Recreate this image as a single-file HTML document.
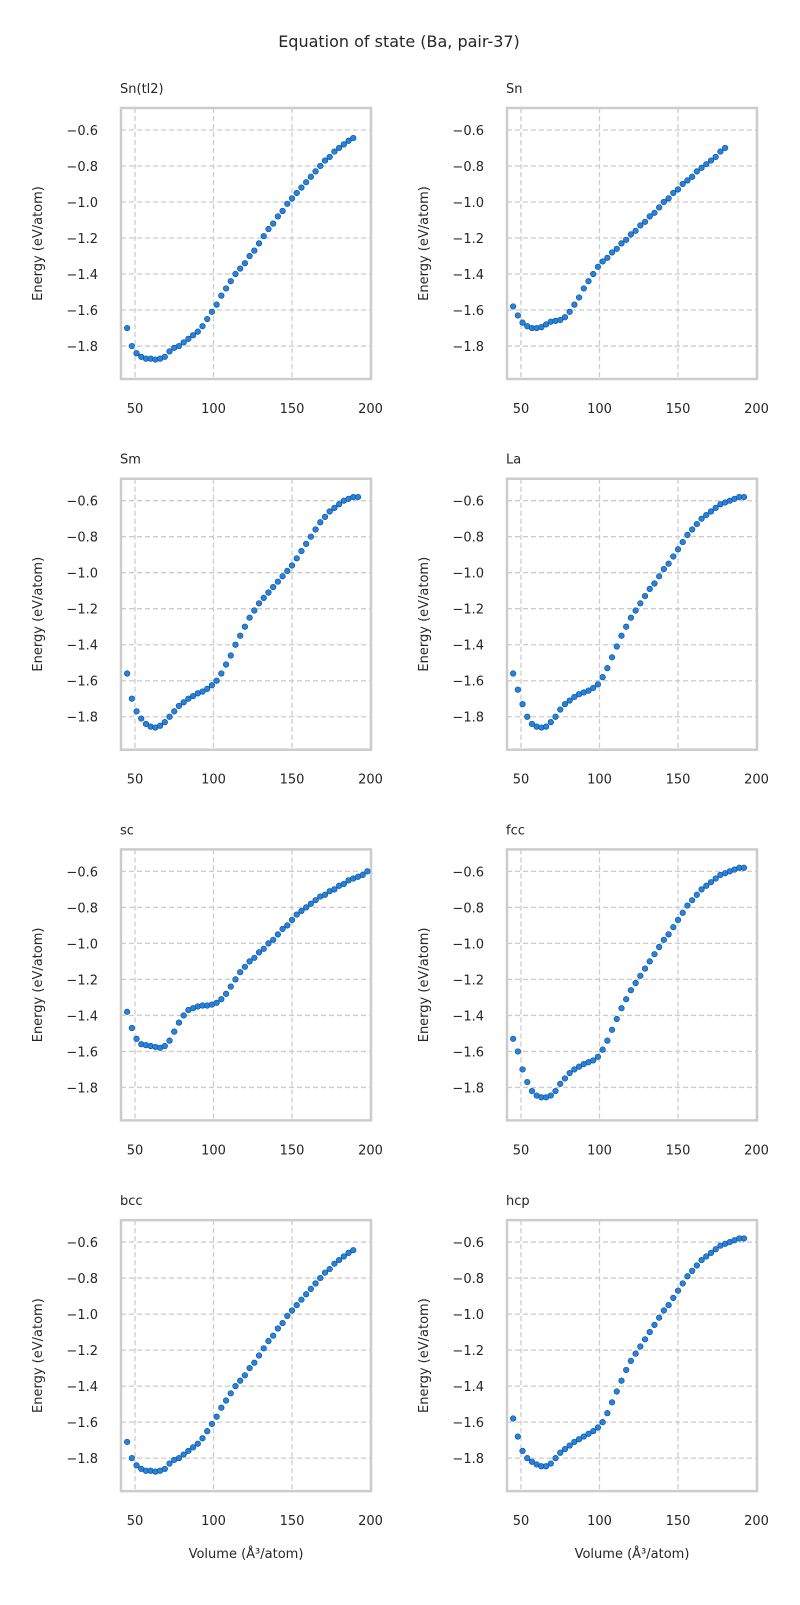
<!DOCTYPE html>
<html><head><meta charset="utf-8">
<style>
body{margin:0;background:#fff;}
svg text{font-family:"DejaVu Sans","Liberation Sans",sans-serif;fill:#262626;}
</style></head>
<body>
<svg id="fig" width="800" height="1600" viewBox="0 0 800 1600" xmlns="http://www.w3.org/2000/svg">
<text x="399" y="47" font-size="16" text-anchor="middle">Equation of state (Ba, pair-37)</text>
</svg>
<script>
const volumes=[45,48,51,54,57,60,63,66,69,72,75,78,81,84,87,90,93,96,99,102,105,108,111,114,117,120,123,126,129,132,135,138,141,144,147,150,153,156,159,162,165,168,171,174,177,180,183,186,189,192,195,198];
const panelNames=["Sn(tl2)","Sn","Sm","La","sc","fcc","bcc","hcp"];
const eSnTl2=[-1.70,-1.80,-1.84,-1.86,-1.87,-1.87,-1.875,-1.87,-1.86,-1.83,-1.81,-1.80,-1.78,-1.76,-1.74,-1.72,-1.69,-1.65,-1.61,-1.57,-1.52,-1.48,-1.44,-1.40,-1.37,-1.34,-1.30,-1.27,-1.23,-1.19,-1.15,-1.12,-1.08,-1.05,-1.01,-0.98,-0.95,-0.92,-0.89,-0.86,-0.83,-0.80,-0.77,-0.75,-0.72,-0.70,-0.68,-0.66,-0.645,null,null,null];
const eSn=[-1.58,-1.63,-1.67,-1.69,-1.70,-1.70,-1.695,-1.68,-1.665,-1.66,-1.655,-1.64,-1.61,-1.57,-1.53,-1.48,-1.44,-1.40,-1.36,-1.33,-1.31,-1.28,-1.26,-1.23,-1.21,-1.18,-1.16,-1.13,-1.11,-1.08,-1.06,-1.03,-1.00,-0.98,-0.95,-0.93,-0.90,-0.88,-0.86,-0.83,-0.81,-0.79,-0.77,-0.75,-0.72,-0.70,null,null,null,null,null,null];
const eSm=[-1.56,-1.70,-1.77,-1.81,-1.84,-1.855,-1.86,-1.85,-1.83,-1.80,-1.77,-1.74,-1.72,-1.70,-1.685,-1.67,-1.66,-1.645,-1.625,-1.60,-1.56,-1.51,-1.46,-1.40,-1.35,-1.30,-1.25,-1.21,-1.17,-1.14,-1.11,-1.08,-1.05,-1.02,-0.99,-0.96,-0.92,-0.88,-0.84,-0.80,-0.76,-0.72,-0.69,-0.66,-0.64,-0.62,-0.60,-0.59,-0.58,-0.58,null,null];
const eLa=[-1.56,-1.65,-1.73,-1.80,-1.84,-1.855,-1.86,-1.855,-1.83,-1.80,-1.76,-1.73,-1.71,-1.69,-1.675,-1.665,-1.655,-1.64,-1.62,-1.58,-1.53,-1.47,-1.41,-1.35,-1.30,-1.25,-1.21,-1.17,-1.13,-1.09,-1.06,-1.02,-0.98,-0.95,-0.91,-0.87,-0.83,-0.79,-0.76,-0.73,-0.70,-0.68,-0.66,-0.64,-0.62,-0.61,-0.60,-0.59,-0.58,-0.58,null,null];
const eSc=[-1.38,-1.47,-1.53,-1.56,-1.565,-1.57,-1.575,-1.58,-1.57,-1.54,-1.49,-1.44,-1.40,-1.37,-1.36,-1.35,-1.345,-1.345,-1.34,-1.33,-1.31,-1.28,-1.24,-1.20,-1.16,-1.13,-1.10,-1.08,-1.05,-1.03,-1.00,-0.98,-0.95,-0.92,-0.90,-0.87,-0.84,-0.82,-0.80,-0.78,-0.76,-0.74,-0.73,-0.71,-0.70,-0.68,-0.67,-0.65,-0.64,-0.63,-0.62,-0.60];
const eFcc=[-1.53,-1.60,-1.70,-1.77,-1.82,-1.845,-1.855,-1.855,-1.845,-1.82,-1.78,-1.75,-1.72,-1.70,-1.685,-1.67,-1.66,-1.65,-1.63,-1.59,-1.54,-1.48,-1.42,-1.36,-1.31,-1.26,-1.22,-1.18,-1.14,-1.10,-1.06,-1.02,-0.98,-0.95,-0.91,-0.87,-0.83,-0.79,-0.76,-0.73,-0.70,-0.68,-0.66,-0.64,-0.62,-0.61,-0.60,-0.59,-0.58,-0.58,null,null];
const eBcc=[-1.71,-1.80,-1.84,-1.86,-1.87,-1.87,-1.875,-1.87,-1.86,-1.83,-1.81,-1.80,-1.78,-1.76,-1.74,-1.72,-1.69,-1.65,-1.61,-1.57,-1.52,-1.48,-1.44,-1.40,-1.37,-1.34,-1.30,-1.27,-1.23,-1.19,-1.15,-1.12,-1.08,-1.05,-1.01,-0.98,-0.95,-0.92,-0.89,-0.86,-0.83,-0.80,-0.77,-0.75,-0.72,-0.70,-0.68,-0.66,-0.645,null,null,null];
const eHcp=[-1.58,-1.68,-1.76,-1.80,-1.82,-1.835,-1.845,-1.845,-1.83,-1.80,-1.77,-1.75,-1.73,-1.71,-1.695,-1.68,-1.665,-1.65,-1.63,-1.60,-1.55,-1.49,-1.43,-1.37,-1.31,-1.26,-1.22,-1.18,-1.14,-1.10,-1.06,-1.02,-0.98,-0.95,-0.91,-0.87,-0.83,-0.79,-0.76,-0.73,-0.70,-0.68,-0.66,-0.64,-0.62,-0.61,-0.60,-0.59,-0.58,-0.58,null,null];
const allSeries=[eSnTl2,eSn,eSm,eLa,eSc,eFcc,eBcc,eHcp];
const xTicks=[50,100,150,200];
const yTicks=[-0.6,-0.8,-1.0,-1.2,-1.4,-1.6,-1.8];

const svg=document.getElementById('fig');
const NS='http://www.w3.org/2000/svg';
const W=250,H=271,XMIN=41.1,XMAX=200.3,YMIN=-1.983,YMAX=-0.478;
function mk(t,a,p){const e=document.createElementNS(NS,t);for(const k in a)e.setAttribute(k,a[k]);p.appendChild(e);return e;}
panelNames.forEach((nm,i)=>{
  const col=i%2,row=Math.floor(i/2);
  const L=121+col*386,T=108+row*370.7;
  const sx=v=>L+(v-XMIN)/(XMAX-XMIN)*W;
  const sy=v=>T+(YMAX-v)/(YMAX-YMIN)*H;
  const g=mk('g',{},svg);
  
  
  xTicks.forEach(t=>{
    const ln=mk('line',{x1:sx(t),x2:sx(t),y1:T,y2:T+H,stroke:'#cccccc','stroke-width':1.3,'stroke-dasharray':'5,3'},g);
    
    
    const tx=mk('text',{x:sx(t),y:T+H+34,'font-size':13,'text-anchor':'middle'},g);
    tx.textContent=t;
    
    
  });
  yTicks.forEach(t=>{
    const ln=mk('line',{x1:L,x2:L+W,y1:sy(t),y2:sy(t),stroke:'#cccccc','stroke-width':1.3,'stroke-dasharray':'5,3'},g);
    
    
    const tx=mk('text',{x:L-23,y:sy(t)+5,'font-size':13,'text-anchor':'end'},g);
    tx.textContent=t.toFixed(1).replace('-','\u2212');
    
    
  });
  const fr=mk('rect',{x:L,y:T,width:W,height:H,fill:'none',stroke:'#cccccc','stroke-width':2.5},g);
  
  
  const st=mk('text',{x:L-1,y:T-15,'font-size':13},g);
  st.textContent=nm;
  
  
  const yl=mk('text',{x:0,y:0,'font-size':13,'text-anchor':'middle',transform:`translate(${L-79},${T+H/2}) rotate(-90)`},g);
  yl.textContent='Energy (eV/atom)';
  
  
  if(row===3){
    const xl=mk('text',{x:L+W/2,y:T+H+67,'font-size':13,'text-anchor':'middle'},g);
    xl.textContent='Volume (\u00C5\u00B3/atom)';
    
    
  }
  allSeries[i].forEach((e,j)=>{
    if(e===null)return;
    const c=mk('circle',{cx:sx(volumes[j]),cy:sy(e),r:2.8,fill:'#1f84e6',stroke:'#1a4a7a','stroke-width':0.6},g);
    
    
  });
});
</script>
</body></html>
